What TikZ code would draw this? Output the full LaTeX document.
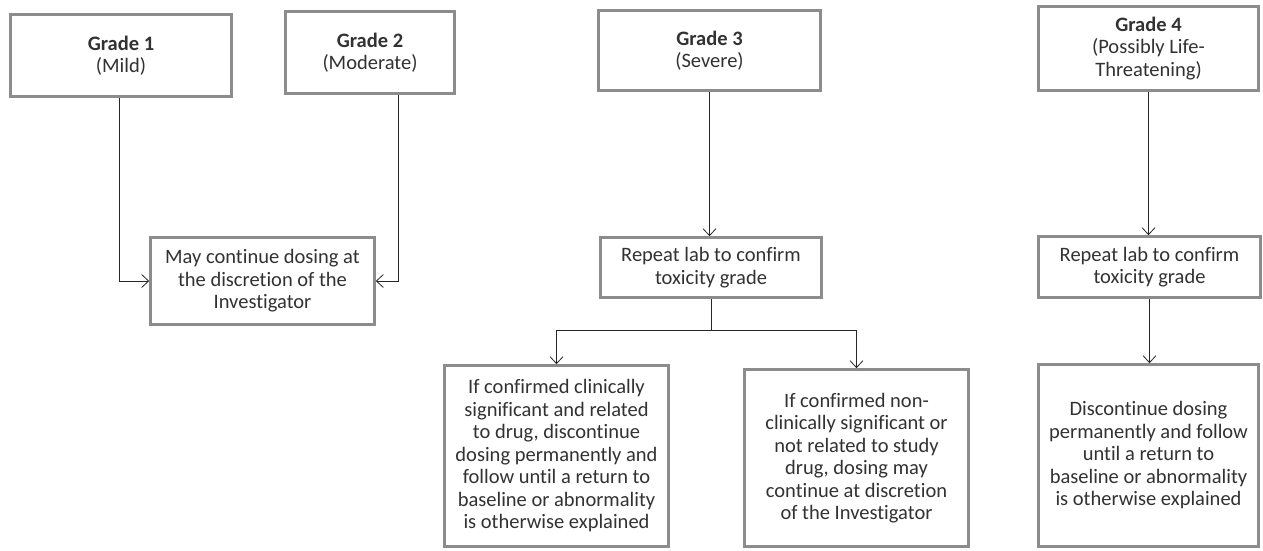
\documentclass[tikz,border=0pt]{standalone}
\usepackage{fontspec}
\setmainfont{Carlito}[Ligatures=NoCommon]
\usetikzlibrary{arrows.meta}
\definecolor{boxgray}{RGB}{140,140,140}
\definecolor{txtgray}{RGB}{50,50,50}
\tikzset{
	gradebox/.style={draw=boxgray,line width=2.6pt,fill=white,align=center,text=txtgray,
		font=\fontsize{20.5}{22.5}\selectfont,inner sep=1pt},
	flow/.style={-{Straight Barb[length=7pt,width=13pt]},line width=0.8pt,black!85},
}

\begin{document}
\begin{tikzpicture}[x={(1pt,0pt)},y={(0pt,-1pt)}]
	\useasboundingbox (0,0) rectangle (1263,550);
	% top row
	\node[gradebox,minimum width=221,minimum height=82] (g1) at (121,55.5) {\textbf{Grade 1}\\(Mild)};
	\node[gradebox,minimum width=169,minimum height=82] (g2) at (370,52.5) {\textbf{Grade 2}\\(Moderate)};
	\node[gradebox,minimum width=222,minimum height=80] (g3) at (709.5,50.5) {\textbf{Grade 3}\\(Severe)};
	\node[gradebox,minimum width=220,minimum height=84] (g4) at (1148.5,48.5) {\textbf{Grade 4}\\(Possibly Life-\\Threatening)};
	% middle row
	\node[gradebox,minimum width=224,minimum height=87] (cont) at (262.5,281) {May continue dosing at\\the discretion of the\\Investigator};
	\node[gradebox,minimum width=221,minimum height=60] (rep3) at (711,267.5) {Repeat lab to confirm\\toxicity grade};
	\node[gradebox,minimum width=222,minimum height=61] (rep4) at (1149.5,267) {Repeat lab to confirm\\toxicity grade};
	% bottom row
	\node[gradebox,minimum width=224,minimum height=181] (conf3) at (556.5,456) {If confirmed clinically\\significant and related\\to drug, discontinue\\dosing permanently and\\follow until a return to\\baseline or abnormality\\is otherwise explained};
	\node[gradebox,minimum width=224,minimum height=177] (nonc3) at (856.5,458) {If confirmed non-\\clinically significant or\\not related to study\\drug, dosing may\\continue at discretion\\of the Investigator};
	\node[gradebox,minimum width=220,minimum height=182] (stop4) at (1148.5,455.5) {Discontinue dosing\\permanently and follow\\until a return to\\baseline or abnormality\\is otherwise explained};
	
	\draw[flow] ([xshift=-2pt]g1.south) |- (cont.west);
	\draw[flow] ([xshift=28pt]g2.south) |- (cont.east);
	\draw[flow] (g3.south) -- (g3.south |- rep3.north);
	\draw[-,line width=0.8pt,black!85] (rep3.south) -- ++(0,32) coordinate (split);
	\draw[flow] (split) -| (conf3.north);
	\draw[flow] (split) -| (nonc3.north);
	\draw[flow] (g4.south) -- (g4.south |- rep4.north);
	\draw[flow] (rep4.south) -- (rep4.south |- stop4.north);
	
\end{tikzpicture}
\end{document}
